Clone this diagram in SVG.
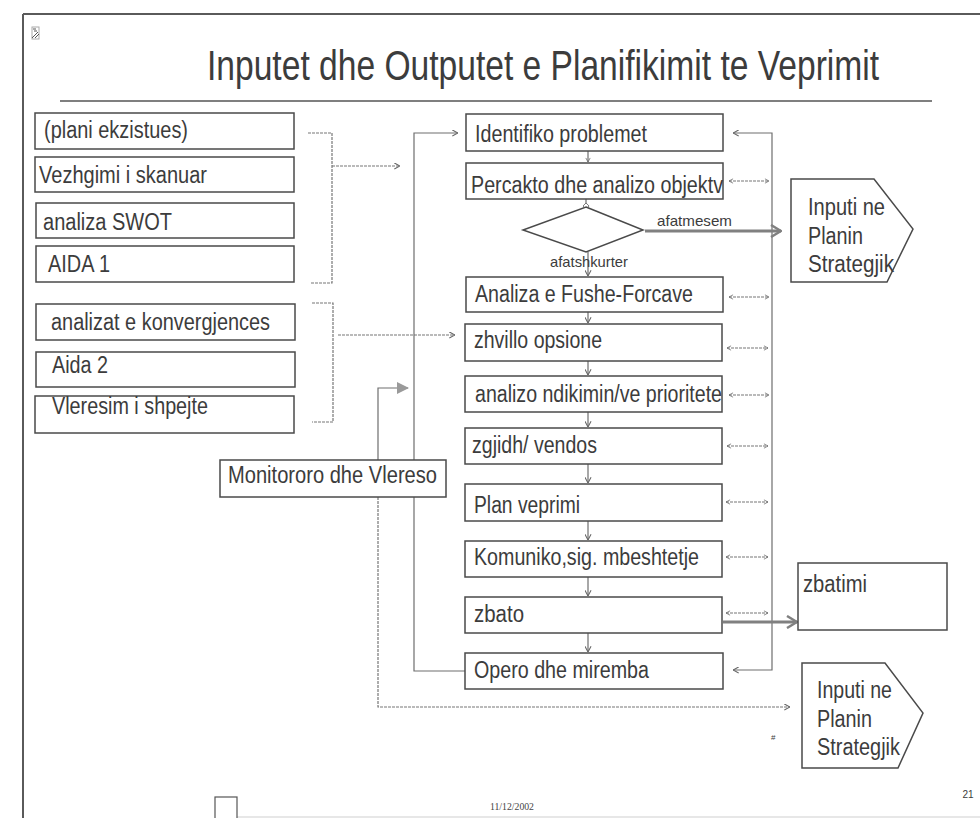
<svg xmlns="http://www.w3.org/2000/svg" width="980" height="818" viewBox="0 0 980 818">
  <style>
    .frame { fill: none; stroke: #5a5a5a; stroke-width: 2; }
    .box { fill: #ffffff; stroke: #4a4a4a; stroke-width: 1.5; }
    .t { font-family: "Liberation Sans", Arial, sans-serif; fill: #3c3c3c; }
    .lbl { font-size: 23px; }
    .small { font-size: 15px; }
    .wire { fill: none; stroke: #6e6e6e; stroke-width: 1.2; }
    .dash { fill: none; stroke: #777777; stroke-width: 1.2; stroke-dasharray: 3 1; }
    .thick { fill: none; stroke: #808080; stroke-width: 3; }
  </style>
  <defs>
    <marker id="open" viewBox="0 0 8 8" refX="7.5" refY="4" markerWidth="7" markerHeight="7" markerUnits="userSpaceOnUse" orient="auto-start-reverse">
      <path d="M1,0.5 L7.5,4 L1,7.5" fill="none" stroke="#666" stroke-width="1.2"/>
    </marker>
    <marker id="tiny" viewBox="0 0 8 8" refX="7.5" refY="4" markerWidth="5" markerHeight="6" markerUnits="userSpaceOnUse" orient="auto-start-reverse">
      <path d="M1,0.5 L7.5,4 L1,7.5" fill="none" stroke="#666" stroke-width="1.2"/>
    </marker>
    <marker id="big" viewBox="0 0 12 14" refX="11" refY="7" markerWidth="12" markerHeight="14" markerUnits="userSpaceOnUse" orient="auto">
      <path d="M1,1 L11,7 L1,13" fill="none" stroke="#808080" stroke-width="2.5"/>
    </marker>
    <marker id="tri" viewBox="0 0 12 12" refX="11" refY="6" markerWidth="12" markerHeight="12" markerUnits="userSpaceOnUse" orient="auto">
      <path d="M0,0 L12,6 L0,12 Z" fill="#9a9a9a"/>
    </marker>
    <marker id="dia" viewBox="0 0 8 8" refX="4" refY="4" markerWidth="7" markerHeight="7" markerUnits="userSpaceOnUse" orient="auto">
      <path d="M4,0.5 L7.5,4 L4,7.5 L0.5,4 Z" fill="#fff" stroke="#666" stroke-width="1"/>
    </marker>
  </defs>

  <!-- page frame -->
  <path class="frame" d="M23,14 H980 M23,14 V818"/>
  <line x1="237" y1="817" x2="980" y2="817" stroke="#cfcfcf" stroke-width="1"/>
  <rect x="215" y="797" width="22" height="24" fill="none" stroke="#555" stroke-width="1.2"/>
  <!-- placeholder picture icon -->
  <g id="icon" stroke="#555" stroke-width="1" fill="none">
    <rect x="32" y="27" width="7" height="12" stroke="#aaa"/>
    <path d="M33,29 H36 M34,31 L37,31 M32,38 L38,32 M35,38 L39,34"/>
  </g>

  <!-- title (horizontally condensed) -->
  <text class="t" transform="translate(207,80) scale(0.8,1)" x="0" y="0" font-size="42" fill="#555">Inputet dhe Outputet e Planifikimit te Veprimit</text>
  <line x1="60" y1="101" x2="932" y2="101" stroke="#555" stroke-width="1.3"/>

  <!-- connectors -->
  <g id="connectors">
    <!-- input brackets -->
    <path class="dash" d="M308,133 H332 V283 H310"/>
    <path class="dash" d="M332,166 H400" marker-end="url(#open)"/>
    <path class="dash" d="M312,303 H333 V422 H312"/>
    <path class="dash" d="M338,335 H455" marker-end="url(#open)"/>
    <!-- loop back from operation to problem identification -->
    <path class="wire" d="M465,671 H414 V133 H458" marker-end="url(#open)"/>
    <!-- monitoring lines -->
    <path class="wire" d="M378,460 V388 H408" marker-end="url(#tri)"/>
    <path class="dash" d="M378,497 V707 H790" marker-end="url(#open)"/>
    <!-- feedback spine on the right -->
    <path class="wire" d="M733,133 H772 V670 H733" marker-start="url(#open)" marker-end="url(#open)"/>
    <!-- step arrows -->
    <g class="wire">
      <path d="M588,151 V162" marker-end="url(#tiny)"/>
      <path d="M586,199 V206" marker-end="url(#dia)"/>
      <path d="M588,252 V276" marker-end="url(#open)"/>
      <path d="M588,312 V323" marker-end="url(#open)"/>
      <path d="M588,361 V375" marker-end="url(#open)"/>
      <path d="M588,412 V427" marker-end="url(#open)"/>
      <path d="M588,464 V483" marker-end="url(#open)"/>
      <path d="M588,521 V540" marker-end="url(#open)"/>
      <path d="M588,577 V596" marker-end="url(#open)"/>
      <path d="M588,633 V652" marker-end="url(#open)"/>
    </g>
    <!-- two-way feedback ticks -->
    <g class="dash">
      <path d="M729,181 H769" marker-start="url(#tiny)" marker-end="url(#tiny)"/>
      <path d="M729,297 H769" marker-start="url(#tiny)" marker-end="url(#tiny)"/>
      <path d="M727,348 H768" marker-start="url(#tiny)" marker-end="url(#tiny)"/>
      <path d="M729,395 H769" marker-start="url(#tiny)" marker-end="url(#tiny)"/>
      <path d="M727,446 H768" marker-start="url(#tiny)" marker-end="url(#tiny)"/>
      <path d="M726,502 H768" marker-start="url(#tiny)" marker-end="url(#tiny)"/>
      <path d="M726,557 H768" marker-start="url(#tiny)" marker-end="url(#tiny)"/>
      <path d="M726,613 H768" marker-start="url(#tiny)" marker-end="url(#tiny)"/>
    </g>
    <!-- outputs -->
    <path class="thick" d="M645,231 H781" marker-end="url(#big)"/>
    <path class="thick" d="M723,622 H797" marker-end="url(#big)"/>
  </g>

  <!-- input boxes -->
  <g id="in-plani"><rect class="box" x="35" y="113" width="259" height="36"/><text class="t lbl" x="44" y="138" textLength="144" lengthAdjust="spacingAndGlyphs">(plani ekzistues)</text></g>
  <g id="in-vezhgimi"><rect class="box" x="35" y="157" width="259" height="35"/><text class="t lbl" x="39" y="183" textLength="168" lengthAdjust="spacingAndGlyphs">Vezhgimi i skanuar</text></g>
  <g id="in-swot"><rect class="box" x="36" y="203" width="258" height="35"/><text class="t lbl" x="43" y="230" textLength="129" lengthAdjust="spacingAndGlyphs">analiza SWOT</text></g>
  <g id="in-aida1"><rect class="box" x="36" y="246" width="258" height="36"/><text class="t lbl" x="48" y="272" textLength="62" lengthAdjust="spacingAndGlyphs">AIDA 1</text></g>
  <g id="in-konvergjences"><rect class="box" x="36" y="304" width="259" height="36"/><text class="t lbl" x="51" y="330" textLength="219" lengthAdjust="spacingAndGlyphs">analizat e konvergjences</text></g>
  <g id="in-aida2"><rect class="box" x="36" y="352" width="259" height="35"/><text class="t lbl" x="52" y="373" textLength="56" lengthAdjust="spacingAndGlyphs">Aida 2</text></g>
  <g id="in-vleresim"><rect class="box" x="35" y="396" width="259" height="37"/><text class="t lbl" x="52" y="414" textLength="156" lengthAdjust="spacingAndGlyphs">Vleresim i shpejte</text></g>

  <!-- process steps -->
  <g id="s-identifiko"><rect class="box" x="466" y="114" width="257" height="37"/><text class="t lbl" x="475" y="142" textLength="172" lengthAdjust="spacingAndGlyphs">Identifiko problemet</text></g>
  <g id="s-percakto"><rect class="box" x="466" y="163" width="257" height="36"/><text class="t lbl" x="471" y="193" textLength="252" lengthAdjust="spacingAndGlyphs">Percakto dhe analizo objektv</text></g>
  <g id="s-decision">
    <path class="box" d="M586,207 L643,230 L586,252 L523,230 Z"/>
    <text class="t small" x="657" y="226" textLength="75" lengthAdjust="spacingAndGlyphs">afatmesem</text>
    <text class="t small" x="550" y="267" textLength="78" lengthAdjust="spacingAndGlyphs">afatshkurter</text>
  </g>
  <g id="s-fushe"><rect class="box" x="466" y="277" width="257" height="35"/><text class="t lbl" x="475" y="302" textLength="218" lengthAdjust="spacingAndGlyphs">Analiza e Fushe-Forcave</text></g>
  <g id="s-zhvillo"><rect class="box" x="465" y="324" width="257" height="37"/><text class="t lbl" x="474" y="348" textLength="128" lengthAdjust="spacingAndGlyphs">zhvillo opsione</text></g>
  <g id="s-analizo"><rect class="box" x="465" y="376" width="257" height="36"/><text class="t lbl" x="475" y="402" textLength="247" lengthAdjust="spacingAndGlyphs">analizo ndikimin/ve prioritete</text></g>
  <g id="s-zgjidh"><rect class="box" x="465" y="428" width="257" height="36"/><text class="t lbl" x="472" y="453" textLength="125" lengthAdjust="spacingAndGlyphs">zgjidh/ vendos</text></g>
  <g id="s-plan"><rect class="box" x="465" y="484" width="257" height="37"/><text class="t lbl" x="474" y="513" textLength="106" lengthAdjust="spacingAndGlyphs">Plan veprimi</text></g>
  <g id="s-komuniko"><rect class="box" x="465" y="541" width="257" height="36"/><text class="t lbl" x="474" y="565" textLength="225" lengthAdjust="spacingAndGlyphs">Komuniko,sig. mbeshtetje</text></g>
  <g id="s-zbato"><rect class="box" x="465" y="597" width="257" height="36"/><text class="t lbl" x="474" y="622" textLength="50" lengthAdjust="spacingAndGlyphs">zbato</text></g>
  <g id="s-opero"><rect class="box" x="465" y="653" width="258" height="36"/><text class="t lbl" x="474" y="678" textLength="175" lengthAdjust="spacingAndGlyphs">Opero dhe miremba</text></g>

  <!-- monitoring -->
  <g id="monitoro"><rect class="box" x="220" y="460" width="226" height="37"/><text class="t lbl" x="228" y="483" textLength="209" lengthAdjust="spacingAndGlyphs">Monitororo dhe Vlereso</text></g>

  <!-- outputs -->
  <g id="out-strategjik-1">
    <path class="box" d="M791,179 H874 L913,229 L887,282 H791 Z"/>
    <text class="t lbl" x="808" y="215" textLength="77" lengthAdjust="spacingAndGlyphs">Inputi ne</text>
    <text class="t lbl" x="808" y="244" textLength="55" lengthAdjust="spacingAndGlyphs">Planin</text>
    <text class="t lbl" x="808" y="272" textLength="86" lengthAdjust="spacingAndGlyphs">Strategjik</text>
  </g>
  <g id="out-zbatimi"><rect class="box" x="798" y="563" width="149" height="67"/><text class="t lbl" x="803" y="592" textLength="64" lengthAdjust="spacingAndGlyphs">zbatimi</text></g>
  <g id="out-strategjik-2">
    <path class="box" d="M802,663 H885 L923,713 L898,768 H802 Z"/>
    <text class="t lbl" x="817" y="698" textLength="75" lengthAdjust="spacingAndGlyphs">Inputi ne</text>
    <text class="t lbl" x="817" y="727" textLength="55" lengthAdjust="spacingAndGlyphs">Planin</text>
    <text class="t lbl" x="817" y="755" textLength="83" lengthAdjust="spacingAndGlyphs">Strategjik</text>
  </g>

  <!-- footer -->
  <text class="t" x="771" y="740" font-size="8" fill="#666">#</text>
  <text x="490" y="810" font-family="Liberation Serif, serif" font-size="11" fill="#444" textLength="44" lengthAdjust="spacingAndGlyphs">11/12/2002</text>
  <text class="t" x="968" y="798" font-size="10" fill="#444" text-anchor="middle">21</text>
</svg>
